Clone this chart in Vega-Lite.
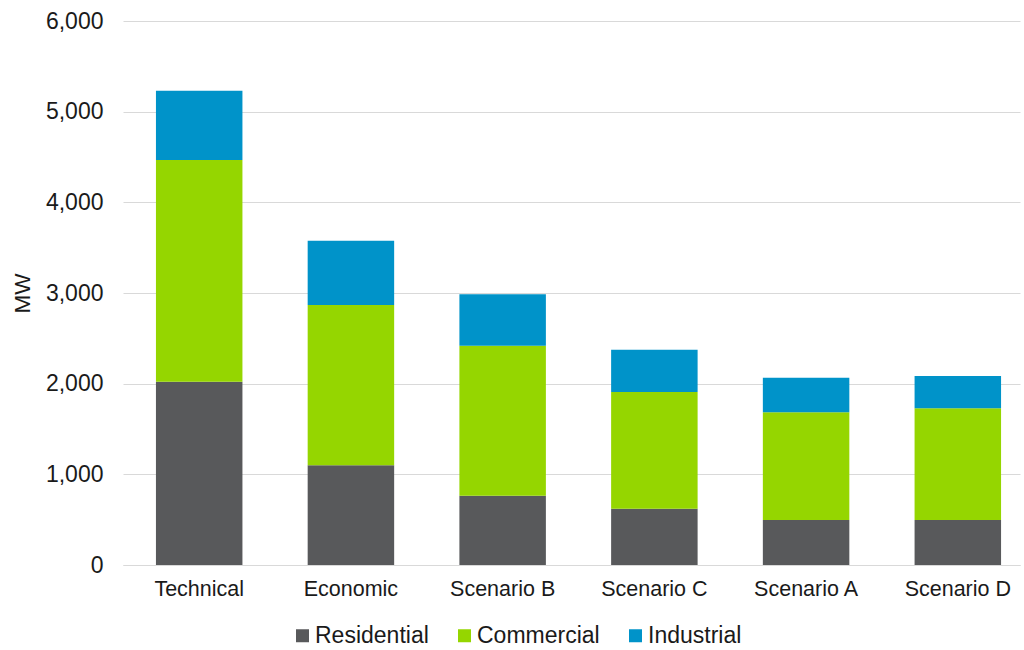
{
  "$schema": "https://vega.github.io/schema/vega-lite/v6.json",
  "autosize": "none",
  "width": 897,
  "height": 544,
  "padding": {"left": 123, "top": 21, "right": 4, "bottom": 85},
  "background": "white",
  "config": {
    "view": {"stroke": null},
    "font": "Liberation Sans",
    "axis": {"labelFont": "Liberation Sans", "titleFont": "Liberation Sans", "labelColor": "#1a1a1a", "titleColor": "#1a1a1a"},
    "legend": {"labelFont": "Liberation Sans"}
  },
  "data": {
    "values": [
      {"scenario": "Technical", "sector": "Residential", "mw": 2020},
      {"scenario": "Technical", "sector": "Commercial", "mw": 2447},
      {"scenario": "Technical", "sector": "Industrial", "mw": 764},
      {"scenario": "Economic", "sector": "Residential", "mw": 1100},
      {"scenario": "Economic", "sector": "Commercial", "mw": 1768},
      {"scenario": "Economic", "sector": "Industrial", "mw": 709},
      {"scenario": "Scenario B", "sector": "Residential", "mw": 765},
      {"scenario": "Scenario B", "sector": "Commercial", "mw": 1654},
      {"scenario": "Scenario B", "sector": "Industrial", "mw": 567},
      {"scenario": "Scenario C", "sector": "Residential", "mw": 620},
      {"scenario": "Scenario C", "sector": "Commercial", "mw": 1288},
      {"scenario": "Scenario C", "sector": "Industrial", "mw": 467},
      {"scenario": "Scenario A", "sector": "Residential", "mw": 496},
      {"scenario": "Scenario A", "sector": "Commercial", "mw": 1188},
      {"scenario": "Scenario A", "sector": "Industrial", "mw": 382},
      {"scenario": "Scenario D", "sector": "Residential", "mw": 496},
      {"scenario": "Scenario D", "sector": "Commercial", "mw": 1232},
      {"scenario": "Scenario D", "sector": "Industrial", "mw": 356}
    ]
  },
  "transform": [
    {"calculate": "indexof(['Residential', 'Commercial', 'Industrial'], datum.sector)", "as": "stackOrder"}
  ],
  "mark": {"type": "bar"},
  "encoding": {
    "x": {
      "field": "scenario",
      "type": "nominal",
      "sort": null,
      "scale": {"paddingInner": 0.43, "paddingOuter": 0.171, "align": 0.635},
      "axis": {
        "title": null,
        "labelAngle": 0,
        "labelFontSize": 21.5,
        "labelPadding": 13,
        "ticks": false,
        "domain": true,
        "domainColor": "#d9d9d9",
        "domainWidth": 1
      }
    },
    "y": {
      "field": "mw",
      "type": "quantitative",
      "stack": "zero",
      "scale": {"domain": [0, 6000]},
      "axis": {
        "title": "MW",
        "titleFontSize": 22.5,
        "titleFontWeight": "normal",
        "titlePadding": 11,
        "values": [0, 1000, 2000, 3000, 4000, 5000, 6000],
        "format": ",.0f",
        "labelFontSize": 23,
        "labelPadding": 20,
        "ticks": false,
        "domain": false,
        "gridColor": "#d9d9d9",
        "gridWidth": 1
      }
    },
    "order": {"field": "stackOrder", "type": "quantitative", "sort": "ascending"},
    "color": {
      "field": "sector",
      "type": "nominal",
      "sort": ["Residential", "Commercial", "Industrial"],
      "scale": {"domain": ["Residential", "Commercial", "Industrial"], "range": ["#58595b", "#95d600", "#0093c9"]},
      "legend": {
        "title": null,
        "orient": "none",
        "direction": "horizontal",
        "legendX": 168,
        "legendY": 603,
        "symbolType": "square",
        "symbolSize": 169,
        "symbolStrokeWidth": 0,
        "labelFontSize": 23,
        "labelLimit": 400,
        "labelColor": "#1a1a1a",
        "labelOffset": 1,
        "columnPadding": 24,
        "padding": 0
      }
    }
  }
}
